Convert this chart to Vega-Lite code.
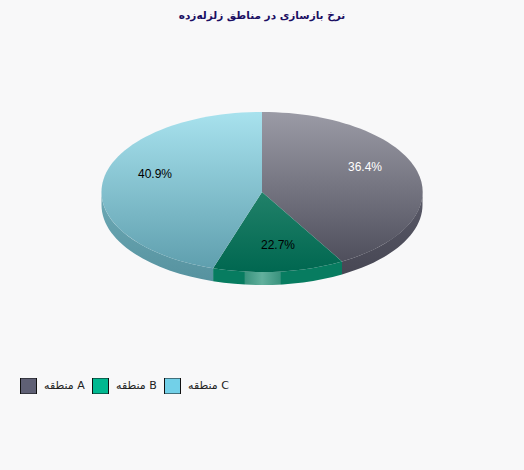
{
  "$schema": "https://vega.github.io/schema/vega-lite/v6.json",
  "description": "Elliptical 3D style pie, wedge outlines are custom point shapes",
  "width": 524,
  "height": 442,
  "autosize": {"type": "none"},
  "padding": {"top": 28, "left": 0, "right": 0, "bottom": 0},
  "background": "#f8f8f9",
  "view": {"stroke": null},
  "title": {
    "text": "نرخ بازسازی در مناطق زلزله‌زده",
    "font": "DejaVu Sans",
    "fontSize": 10.5,
    "fontWeight": "bold",
    "color": "#1b0f63",
    "anchor": "middle",
    "offset": 7
  },
  "data": {
    "values": [
      {"region": "منطقه A", "share": 0.364},
      {"region": "منطقه B", "share": 0.227},
      {"region": "منطقه C", "share": 0.409}
    ]
  },
  "encoding": {
    "x": {"datum": 0, "type": "quantitative", "scale": {"domain": [-262, 262], "nice": false, "zero": false}, "axis": null},
    "y": {"datum": 0, "type": "quantitative", "scale": {"domain": [278, -164], "nice": false, "zero": false}, "axis": null}
  },
  "layer": [
    {
      "transform": [{"filter": "datum.region === 'منطقه A'"}],
      "mark": {"type": "point", "filled": true, "opacity": 1, "size": 4, "stroke": null,
        "shape": "M80,69.4 A160.5,80 0 0 0 160.5,0 L160.5,13 A160.5,80 0 0 1 80,82.4 Z",
        "fill": {"gradient": "linear", "x1": 0, "y1": 0, "x2": 0, "y2": 1, "stops": [{"offset": 0, "color": "#5a5a68"}, {"offset": 1, "color": "#474754"}]}}
    },
    {
      "transform": [{"filter": "datum.region === 'منطقه B'"}],
      "mark": {"type": "point", "filled": true, "opacity": 1, "size": 4, "stroke": null,
        "shape": "M80,69.4 A160.5,80 0 0 1 -48.9,76.2 L-48.9,89.2 A160.5,80 0 0 0 80,82.4 Z",
        "fill": {"gradient": "linear", "x1": 0, "y1": 0, "x2": 1, "y2": 0, "stops": [
          {"offset": 0, "color": "#077c60"}, {"offset": 0.24, "color": "#077c60"}, {"offset": 0.25, "color": "#3a937e"},
          {"offset": 0.38, "color": "#62b09d"}, {"offset": 0.52, "color": "#3a937e"}, {"offset": 0.53, "color": "#077c60"}, {"offset": 1, "color": "#077c60"}]}}
    },
    {
      "transform": [{"filter": "datum.region === 'منطقه C'"}],
      "mark": {"type": "point", "filled": true, "opacity": 1, "size": 4, "stroke": null,
        "shape": "M-48.9,76.2 A160.5,80 0 0 1 -160.5,0 L-160.5,13 A160.5,80 0 0 0 -48.9,89.2 Z",
        "fill": {"gradient": "linear", "x1": 0, "y1": 0, "x2": 0, "y2": 1, "stops": [{"offset": 0, "color": "#6eaab6"}, {"offset": 1, "color": "#56929f"}]}}
    },
    {
      "transform": [{"filter": "datum.region === 'منطقه A'"}],
      "mark": {"type": "point", "filled": true, "opacity": 1, "size": 4, "stroke": null,
        "shape": "M0,0 L0,-80 A160.5,80 0 0 1 80,69.4 Z",
        "fill": {"gradient": "linear", "x1": 0, "y1": 0, "x2": 0, "y2": 1, "stops": [{"offset": 0, "color": "#9b9ba6"}, {"offset": 1, "color": "#4f4f5c"}]}}
    },
    {
      "transform": [{"filter": "datum.region === 'منطقه B'"}],
      "mark": {"type": "point", "filled": true, "opacity": 1, "size": 4, "stroke": null,
        "shape": "M0,0 L80,69.4 A160.5,80 0 0 1 -48.9,76.2 Z",
        "fill": {"gradient": "linear", "x1": 0, "y1": 0, "x2": 0, "y2": 1, "stops": [{"offset": 0, "color": "#218169"}, {"offset": 1, "color": "#006750"}]}}
    },
    {
      "transform": [{"filter": "datum.region === 'منطقه C'"}],
      "mark": {"type": "point", "filled": true, "opacity": 1, "size": 4, "stroke": null,
        "shape": "M0,0 L-48.9,76.2 A160.5,80 0 0 1 0,-80 Z",
        "fill": {"gradient": "linear", "x1": 0, "y1": 0, "x2": 0, "y2": 1, "stops": [{"offset": 0, "color": "#a8e2ee"}, {"offset": 1, "color": "#5f9fae"}]}}
    },
    {
      "mark": {"type": "square", "size": 0, "opacity": 1},
      "encoding": {
        "fill": {
          "field": "region",
          "type": "nominal",
          "scale": {"domain": ["منطقه A", "منطقه B", "منطقه C"], "range": ["#5f6075", "#00b890", "#72d0e8"]},
          "legend": {
            "orient": "none",
            "legendX": 20,
            "legendY": 350,
            "direction": "horizontal",
            "columns": 3,
            "title": null,
            "padding": 0,
            "symbolType": "square",
            "symbolSize": 256,
            "symbolStrokeColor": "#111111",
            "symbolStrokeWidth": 1,
            "symbolOpacity": 1,
            "labelFont": "DejaVu Sans",
            "labelFontSize": 11,
            "labelColor": "#222222",
            "labelOffset": 7,
            "columnPadding": 7,
            "clipHeight": 16
          }
        }
      }
    },
    {
      "transform": [{"filter": "datum.region === 'منطقه A'"}],
      "mark": {"type": "text", "font": "Liberation Sans", "fontSize": 12, "color": "#ffffff", "dx": 103, "dy": -25},
      "encoding": {"text": {"field": "share", "type": "quantitative", "format": ".1%"}}
    },
    {
      "transform": [{"filter": "datum.region === 'منطقه B'"}],
      "mark": {"type": "text", "font": "Liberation Sans", "fontSize": 12, "color": "#000000", "dx": 16, "dy": 53},
      "encoding": {"text": {"field": "share", "type": "quantitative", "format": ".1%"}}
    },
    {
      "transform": [{"filter": "datum.region === 'منطقه C'"}],
      "mark": {"type": "text", "font": "Liberation Sans", "fontSize": 12, "color": "#000000", "dx": -107, "dy": -18},
      "encoding": {"text": {"field": "share", "type": "quantitative", "format": ".1%"}}
    }
  ]
}
